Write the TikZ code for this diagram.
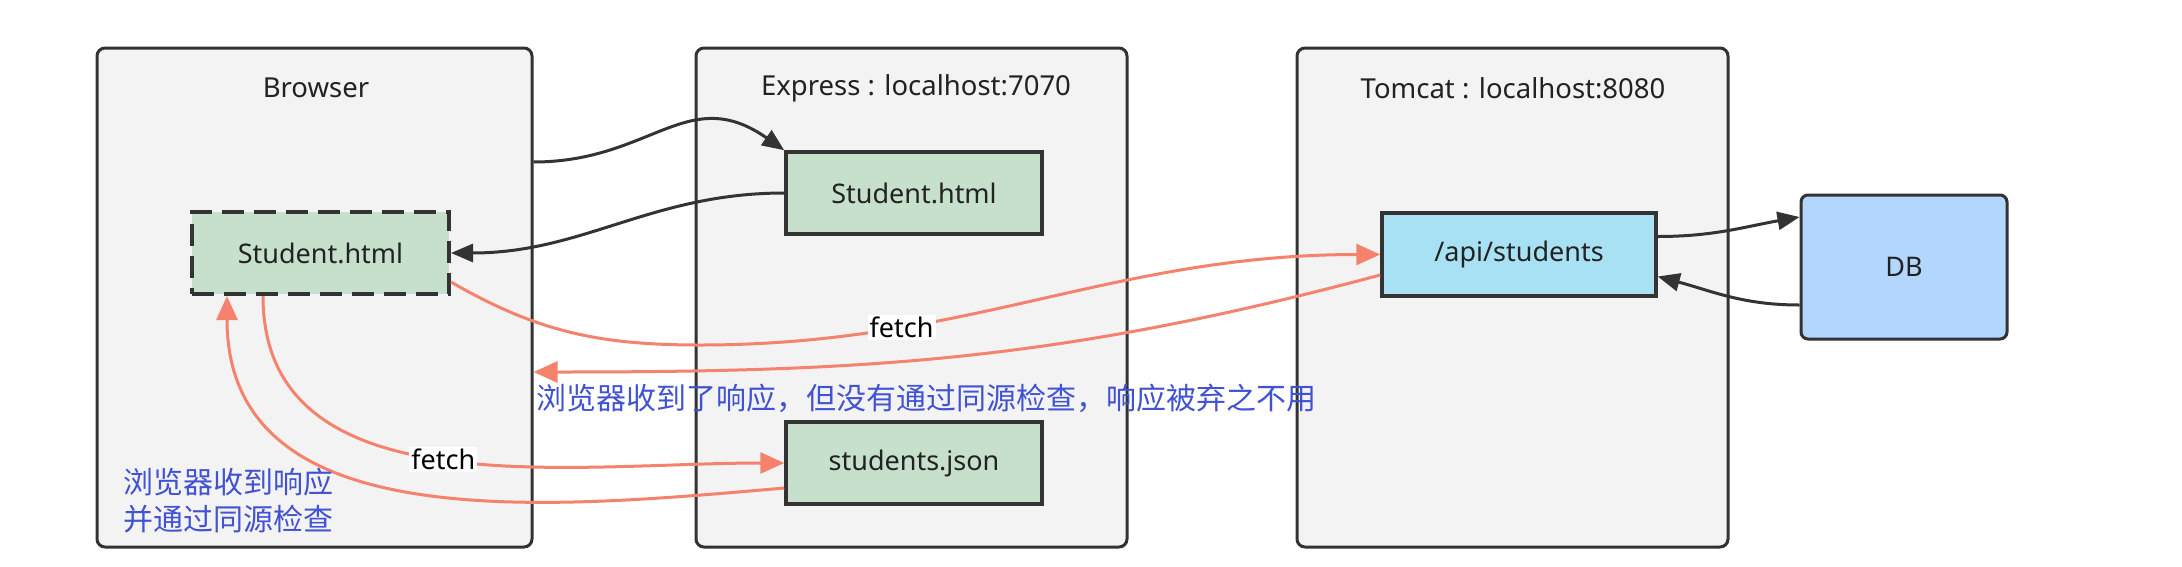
\documentclass[tikz,border=0pt]{standalone}
\usepackage{fontspec}
\setmainfont{Noto Sans}
\newfontfamily\cjk{Noto Sans CJK SC}
\usetikzlibrary{arrows.meta}
\definecolor{bordc}{HTML}{333333}
\definecolor{contfill}{HTML}{F3F3F3}
\definecolor{greenfill}{HTML}{C6E0CB}
\definecolor{apifill}{HTML}{A8E1F3}
\definecolor{dbfill}{HTML}{B3D6FF}
\definecolor{redline}{HTML}{F4826C}
\definecolor{bluetext}{HTML}{4152D2}
\definecolor{textc}{HTML}{222222}
\begin{document}
\begin{tikzpicture}[x=1pt,y=-1pt,
  container/.style={draw=bordc,fill=contfill,line width=3pt,rounded corners=8pt,minimum width=431pt,minimum height=499pt,inner sep=0pt},
  title/.style={text=textc,font=\fontsize{27.5}{32}\selectfont},
  filebox/.style={draw=bordc,fill=greenfill,line width=3.5pt,minimum width=256pt,minimum height=82pt,inner sep=0pt,text=textc,font=\fontsize{27}{32}\selectfont},
  blackarrow/.style={draw=bordc,line width=3pt,-{Triangle[length=22pt,width=18pt]}},
  redarrow/.style={draw=redline,line width=3pt,-{Triangle[length=24pt,width=21pt]}},
  flabel/.style={fill=white,text=black,font=\fontsize{27}{32}\selectfont,inner sep=2pt},
  note/.style={text=bluetext,font=\cjk\fontsize{30}{37}\selectfont,align=left,inner sep=0pt}
]
\useasboundingbox (0,0) rectangle (2182,566);
\fill[white] (0,0) rectangle (2182,566);

% containers
\node[container,minimum width=435pt] (browser) at (314.5,297.5) {};
\node[container] (express) at (911.5,297.5) {};
\node[container] (tomcat) at (1512.5,297.5) {};
\node[title] (browsertitle) at (316,88) {Browser};
\node[title] (expresstitle) at (916,88) {Express : localhost:7070};
\node[title] (tomcattitle) at (1513,88) {Tomcat : localhost:8080};

% boxes
\node[filebox,dash pattern=on 22pt off 10pt,line width=4pt,minimum width=257pt] (dhtml) at (320.5,253) {Student.html};
\node[filebox] (ehtml) at (914,193) {Student.html};
\node[filebox] (json) at (914,463) {students.json};
\node[filebox,fill=apifill,minimum width=274pt,minimum height=83pt] (api) at (1519,254.5) {/api/students};
\node[draw=bordc,fill=dbfill,line width=3pt,rounded corners=7pt,minimum width=206pt,minimum height=144pt,text=textc,font=\fontsize{27}{32}\selectfont] (db) at (1904,267) {DB};

% black connectors
\draw[blackarrow] ([yshift=135.5pt]browser.east) to[out=0,in=145,looseness=1.2] (ehtml.north west);
\draw[blackarrow] (ehtml.west) to[out=180,in=0] (dhtml.east);
\draw[blackarrow] ([yshift=18pt]api.east) to[out=0,in=190] ([yshift=50pt]db.west);
\draw[blackarrow] ([yshift=-38pt]db.west) to[out=180,in=-15] ([yshift=-22pt]api.east);

% red connectors
\coordinate (fetchlow) at (700,345);
\draw[redarrow] ([yshift=-29pt]dhtml.east) to[out=-30,in=180] (fetchlow) to[out=0,in=180] node[flabel,pos=0.28]{fetch} (api.west);
\draw[redarrow] ([yshift=-20.5pt]api.west) to[out=195,in=0] ([yshift=-74.5pt]browser.east);
\draw[redarrow] ([xshift=-57.5pt]dhtml.south) to[out=-90,in=180] node[flabel,pos=0.5]{fetch} (json.west);
\draw[redarrow] ([yshift=-25pt]json.west) to[out=185,in=-90,looseness=1.05] ([xshift=-93.5pt]dhtml.south);

% notes
\node[note,anchor=west] (note2) at (536,398) {浏览器收到了响应，但没有通过同源检查，响应被弃之不用};
\node[note,anchor=west] (note1) at (123,501) {浏览器收到响应\\并通过同源检查};
\end{tikzpicture}
\end{document}
